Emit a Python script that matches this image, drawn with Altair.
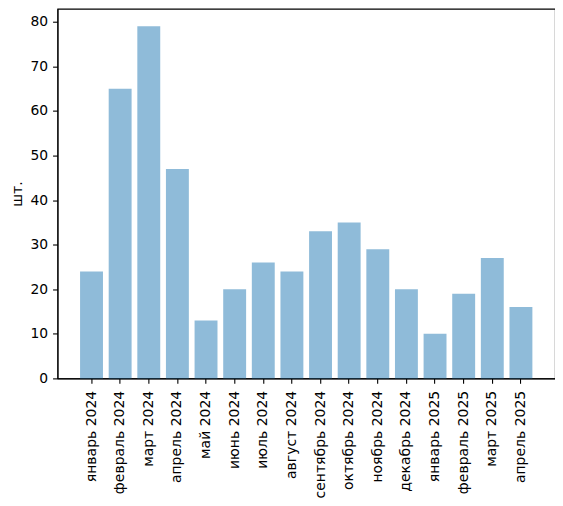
import altair as alt
import pandas as pd

months = ["январь 2024", "февраль 2024", "март 2024", "апрель 2024", "май 2024",
          "июнь 2024", "июль 2024", "август 2024", "сентябрь 2024", "октябрь 2024",
          "ноябрь 2024", "декабрь 2024", "январь 2025", "февраль 2025", "март 2025",
          "апрель 2025"]
counts = [24, 65, 79, 47, 13, 20, 26, 24, 33, 35, 29, 20, 10, 19, 27, 16]
y_ticks = [0, 10, 20, 30, 40, 50, 60, 70, 80]

df = pd.DataFrame({"month": months, "count": counts})

FONT = "DejaVu Sans"
FS = 13.9

chart = alt.Chart(df).mark_bar(color="#1f77b4", opacity=0.5).encode(
    x=alt.X("month:N", sort=months,
            scale=alt.Scale(paddingInner=0.2, paddingOuter=0.79),
            axis=alt.Axis(title=None, labelAngle=-90, labelAlign="right",
                          labelBaseline="middle", labelPadding=7,
                          tickSize=4.9, tickWidth=1.1, tickColor="black",
                          domainColor="black", domainWidth=1.1,
                          labelColor="black", labelFont=FONT, labelFontSize=14)),
    y=alt.Y("count:Q", scale=alt.Scale(domain=[0, 82.95], nice=False),
            axis=alt.Axis(title="шт.", values=y_ticks, grid=False,
                          labelPadding=4.9, tickSize=4.9, tickWidth=1.1,
                          tickColor="black", domainColor="black", domainWidth=1.1,
                          labelColor="black", labelFont=FONT, labelFontSize=FS,
                          titleFont=FONT, titleFontSize=FS, titleFontWeight="normal",
                          titleColor="black", titlePadding=6)),
).properties(
    width=498, height=370,
    autosize=alt.AutoSizeParams(type="none"),
    padding={"left": 49.5, "top": 0.5, "right": 0, "bottom": 119.5},
).configure_view(stroke="black", strokeWidth=1.1)

chart.save("out.html", embed_options={"renderer": "svg", "actions": False})
